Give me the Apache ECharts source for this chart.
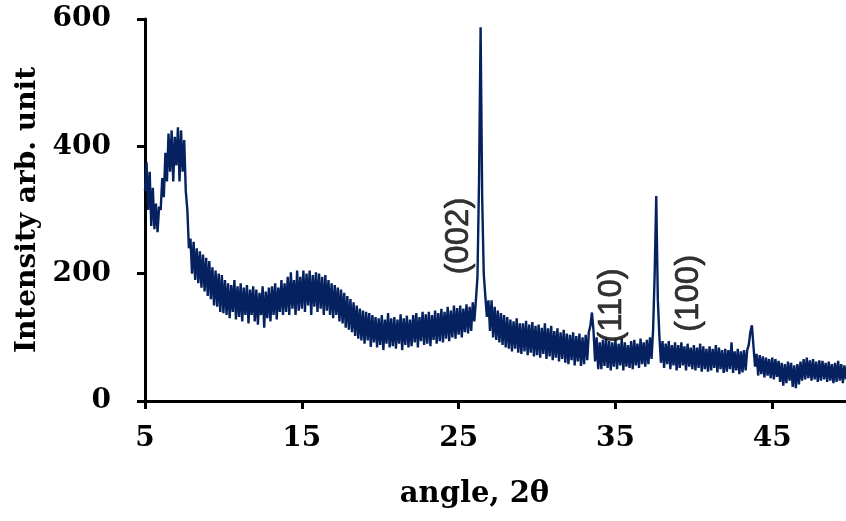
<!DOCTYPE html>
<html>
<head>
<meta charset="utf-8">
<script src="https://cdn.jsdelivr.net/npm/echarts@6/dist/echarts.min.js"></script>
<style>html,body{margin:0;padding:0;background:#fff}#c{width:846px;height:521px}</style>
</head>
<body>
<div id="c"></div>
<script>
// sampling grid of the diffractogram (2θ, degrees)
const angleStart = 5.0;
const angleStep = 0.1;
// intensity, one value per 0.1° from 5.0 to 49.7
const intensity = [
  330,375,300,360,275,335,270,310,265,305,
  300,350,320,390,345,420,360,425,345,415,
  370,430,345,425,360,410,330,300,240,255,
  200,250,190,240,185,235,178,230,172,225,
  165,220,160,210,150,205,148,200,140,198,
  138,190,135,185,130,182,140,190,128,180,
  132,185,125,178,135,182,122,175,135,180,
  125,175,120,170,135,180,115,172,130,178,
  125,180,135,185,128,178,140,190,135,185,
  140,195,135,202,145,190,135,205,142,195,
  145,205,140,200,150,205,135,198,148,202,
  140,200,145,195,135,198,142,190,135,185,
  130,182,135,178,125,175,122,170,115,165,
  112,160,108,155,102,150,98,145,95,142,
  90,140,95,138,85,135,92,132,84,130,
  88,135,80,128,90,138,84,130,86,132,
  82,128,90,136,80,130,88,134,84,128,
  86,135,92,138,84,132,94,140,88,136,
  90,140,86,135,96,142,90,138,94,145,
  92,140,98,148,94,142,100,150,98,146,
  104,150,100,145,108,152,106,148,110,155,
  125,158,195,345,587,320,200,165,132,158,
  110,158,100,148,96,142,92,138,88,135,
  84,132,82,128,78,125,82,130,76,122,
  74,122,78,126,72,120,76,124,70,118,
  72,120,68,115,74,122,66,114,70,118,
  64,110,68,114,62,108,66,112,60,106,
  58,104,64,108,56,102,62,106,55,100,
  58,104,64,108,118,139,110,62,100,50,
  92,50,96,55,98,52,94,48,92,54,
  96,50,90,56,98,48,92,54,88,52,
  94,50,96,56,90,52,98,58,92,54,
  96,58,100,66,112,200,322,160,102,60,
  94,52,90,58,94,50,88,56,92,48,
  88,52,92,56,86,48,90,54,84,50,
  88,48,84,52,90,46,86,50,82,46,
  86,48,82,52,88,45,84,50,80,44,
  82,46,80,50,92,44,78,48,82,42,
  78,45,80,48,80,88,108,119,86,54,
  74,40,72,42,70,37,68,40,66,36,
  68,34,66,38,63,30,60,24,58,28,
  62,32,60,22,56,20,58,26,62,32,
  66,34,68,36,64,32,66,34,62,30,
  64,32,63,34,60,30,62,32,58,28,
  60,30,63,32,58,28,56,34
];
const xTicks = [5, 15, 25, 35, 45];
const peakLabels = ['(002)', '(110)', '(100)'];
const peakLabelAngles = [25.0, 34.75, 39.7];
const peakLabelIntensities = [259, 150, 169];

const seriesData = intensity.map((v, i) => [+(angleStart + i * angleStep).toFixed(2), v]);
const labelData = peakLabels.map((n, i) => ({name: n, value: [peakLabelAngles[i], peakLabelIntensities[i]]}));

const serif = '"DejaVu Serif", "Liberation Serif", serif';
const chart = echarts.init(document.getElementById('c'), null, {renderer: 'canvas'});
chart.setOption({
  animation: false,
  backgroundColor: '#ffffff',
  grid: {left: 145, right: 0, top: 19, bottom: 120, containLabel: false},
  xAxis: {
    type: 'value', min: 5, max: 49.7,
    name: 'angle, 2θ', nameLocation: 'middle', nameGap: 79,
    nameTextStyle: {fontFamily: serif, fontWeight: 'bold', fontSize: 29, color: '#000', padding: [0, 42, 0, 0]},
    axisLine: {show: true, lineStyle: {color: '#000', width: 3}},
    axisTick: {show: true, inside: false, length: 8, lineStyle: {color: '#000', width: 3}, customValues: xTicks},
    axisLabel: {fontFamily: serif, fontWeight: 'bold', fontSize: 28, color: '#000', margin: 24, customValues: xTicks},
    splitLine: {show: false}
  },
  yAxis: {
    type: 'value', min: 0, max: 600, interval: 200,
    name: 'Intensity arb. unit', nameLocation: 'middle', nameRotate: 90, nameGap: 98,
    nameTextStyle: {fontFamily: serif, fontWeight: 'bold', fontSize: 28, color: '#000'},
    axisLine: {show: true, lineStyle: {color: '#000', width: 3}},
    axisTick: {show: true, inside: false, length: 8, lineStyle: {color: '#000', width: 3}},
    axisLabel: {fontFamily: serif, fontWeight: 'bold', fontSize: 28, color: '#000', margin: 34},
    splitLine: {show: false}
  },
  series: [
    {
      type: 'line', data: seriesData, showSymbol: false, symbol: 'none',
      lineStyle: {color: '#05215f', width: 2.4}, z: 2
    },
    {
      type: 'scatter', data: labelData, symbolSize: 0, z: 3,
      label: {show: true, position: 'inside', rotate: 90, formatter: '{b}',
        fontFamily: '"Liberation Sans", Arial, sans-serif', fontSize: 33, color: '#000',
        textBorderColor: '#000', textBorderWidth: 0.6}
    }
  ]
});
</script>
</body>
</html>
